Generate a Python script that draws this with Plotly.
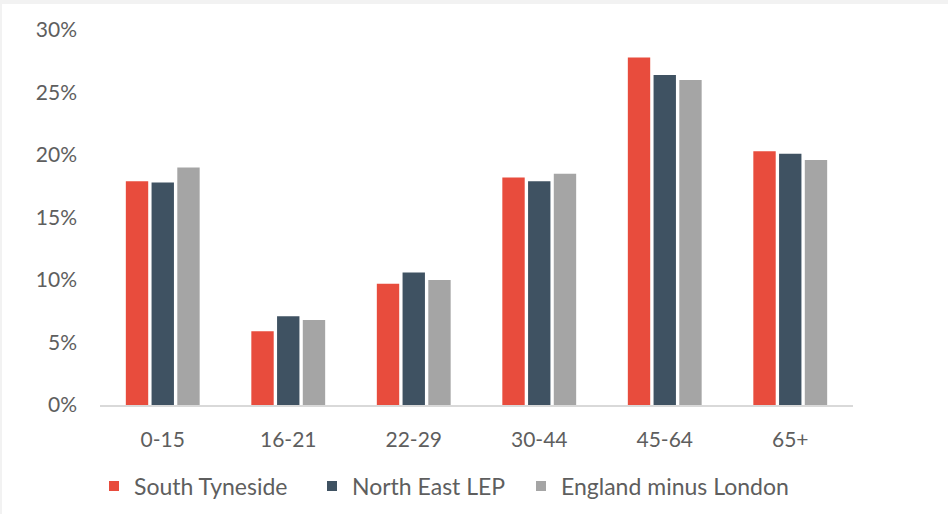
import plotly.graph_objects as go

# Age bands and share of population in each band
age_bands = ["0-15", "16-21", "22-29", "30-44", "45-64", "65+"]
south_tyneside = [17.9, 5.9, 9.7, 18.2, 27.8, 20.3]
north_east_lep = [17.8, 7.1, 10.6, 17.9, 26.4, 20.1]
england_minus_london = [19.0, 6.8, 10.0, 18.5, 26.0, 19.6]

series_names = ["South Tyneside", "North East LEP", "England minus London"]
series_colors = ["#E84C3D", "#3F5262", "#A5A5A5"]
y_ticks = [0, 5, 10, 15, 20, 25, 30]
y_tick_text = [f"{v}%" for v in y_ticks]

FONT = "Lato"
TEXT_COLOR = "#5E5E5E"

W, H = 948, 514
L, R, T, B = 100, 95, 30, 109
pw, ph = W - L - R, H - T - B

# left edge (px) of each legend entry
legend_left_px = [94, 312, 521]
legend_ids = ["legend", "legend2", "legend3"]

fig = go.Figure()
for name, values, color, lid in zip(series_names,
                                    [south_tyneside, north_east_lep, england_minus_london],
                                    series_colors, legend_ids):
    fig.add_trace(go.Bar(
        x=age_bands, y=values, name=name, showlegend=False,
        marker=dict(color=color, line=dict(width=0)),
    ))
    # small square key for the legend
    fig.add_trace(go.Scatter(
        x=[None], y=[None], name=name, mode="markers", legend=lid,
        marker=dict(symbol="square", size=10, color=color),
    ))


def px_x(p):
    return (p - L) / pw


def px_y(p):
    return (H - B - p) / ph


# page frame: thin grey strips along the top and left edges
fig.add_shape(type="rect", xref="paper", yref="paper", layer="below",
              x0=px_x(0), x1=px_x(W), y0=px_y(4), y1=px_y(0),
              fillcolor="#F2F2F2", line=dict(width=0))
fig.add_shape(type="rect", xref="paper", yref="paper", layer="below",
              x0=px_x(0), x1=px_x(2), y0=px_y(H), y1=px_y(0),
              fillcolor="#F2F2F2", line=dict(width=0))

legend_style = dict(
    orientation="h", xref="container", yref="container",
    xanchor="left", yanchor="middle", y=1 - 486 / H,
    font=dict(family=FONT, size=23, color=TEXT_COLOR),
    bgcolor="rgba(0,0,0,0)", itemwidth=30,
)

fig.update_layout(
    width=W, height=H,
    margin=dict(l=L, r=R, t=T, b=B, pad=0, autoexpand=False),
    paper_bgcolor="white", plot_bgcolor="white",
    barmode="group", bargap=0.385, bargroupgap=0.13,
    font=dict(family=FONT, size=22, color=TEXT_COLOR),
    showlegend=True,
    legend=dict(legend_style, x=legend_left_px[0] / W),
    legend2=dict(legend_style, x=legend_left_px[1] / W),
    legend3=dict(legend_style, x=legend_left_px[2] / W),
    xaxis=dict(
        showline=True, linecolor="#D9D9D9", linewidth=2,
        showgrid=False, ticks="", ticklabelstandoff=15, automargin=False,
        tickfont=dict(family=FONT, size=21, color=TEXT_COLOR),
    ),
    yaxis=dict(
        range=[0, 30], tickvals=y_ticks, ticktext=y_tick_text,
        showgrid=False, zeroline=False, showline=False, ticks="",
        ticklabelstandoff=22, automargin=False,
        tickfont=dict(family=FONT, size=21, color=TEXT_COLOR),
    ),
)

fig.write_html("out.html")
